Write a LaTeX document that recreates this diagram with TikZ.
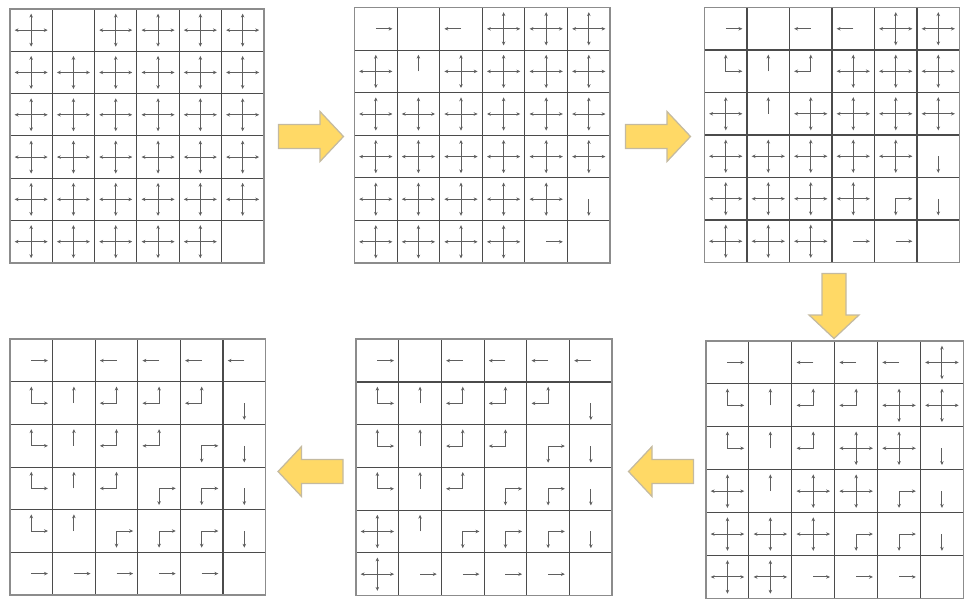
\documentclass[tikz,border=0pt]{standalone}
\usetikzlibrary{arrows.meta}
\definecolor{ArrowGold}{RGB}{255,217,102}
\definecolor{ArrowEdge}{RGB}{196,186,160}
\definecolor{GridGray}{RGB}{75,75,75}
\definecolor{FrameGray}{RGB}{140,140,140}
\definecolor{ArmGray}{RGB}{95,95,95}
\tikzset{
  armtip/.tip={Stealth[length=2.2pt,width=2pt]},
  gridline/.style={draw=GridGray, line width=0.6pt},
  gridframe/.style={draw=FrameGray, line width=1pt},
  arm/.style={draw=ArmGray, line width=0.55pt, -armtip},
  armboth/.style={draw=ArmGray, line width=0.55pt, armtip-armtip, line join=miter},
  bigarrow/.style={fill=ArrowGold, draw=ArrowEdge, line width=0.7pt, line join=miter},
  blockarrow/.pic={
    \path[bigarrow] (0,-12) -- (41.5,-12) -- (41.5,-25) -- (65,0)
      -- (41.5,25) -- (41.5,12) -- (0,12) -- cycle;
  },
}

% cell contents, drawn round the coordinate (m); \al = arm length in px
\newcommand{\cellN}{}
\newcommand{\cellR}{\draw[arm] (m) -- ++(\al,0);}
\newcommand{\cellL}{\draw[arm] (m) -- ++(-\al,0);}
\newcommand{\cellU}{\draw[arm] (m) -- ++(0,-\al);}
\newcommand{\cellD}{\draw[arm] (m) -- ++(0,\al);}
\newcommand{\cellX}{%
  \draw[armboth] (m) ++(-\al,0) -- ++(2*\al,0);
  \draw[armboth] (m) ++(0,-\al) -- ++(0,2*\al);}
\newcommand{\cellUR}{\draw[armboth] (m) ++(0,-\al) -- ++(0,\al) -- ++(\al,0);}
\newcommand{\cellUL}{\draw[armboth] (m) ++(0,-\al) -- ++(0,\al) -- ++(-\al,0);}
\newcommand{\cellRD}{\draw[armboth] (m) ++(\al,0) -- ++(-\al,0) -- ++(0,\al);}

% one 6x6 state: left, top, cell size, rows of cell codes
\newcommand{\stategrid}[4]{%
  \begin{scope}[shift={(#1,#2)}]
    \def\cs{#3}
    \pgfmathsetmacro{\al}{0.39*#3}
    \foreach \k in {1,...,5}{
      \draw[gridline] (\k*\cs,0) -- (\k*\cs,6*\cs);
      \draw[gridline] (0,\k*\cs) -- (6*\cs,\k*\cs);
    }
    \draw[gridframe] (0,0) rectangle (6*\cs,6*\cs);
    \foreach \rowcodes [count=\ri from 0] in {#4}{
      \foreach \code [count=\ci from 0] in \rowcodes {
        \coordinate (m) at ({(\ci+0.5)*\cs},{(\ri+0.5)*\cs});
        \csname cell\code\endcsname
      }
    }
  \end{scope}}

\begin{document}
\begin{tikzpicture}[x=0.02cm, y=-0.02cm]
  \useasboundingbox (0,0) rectangle (972,609);

  % --- (1) start ---
  \stategrid{10}{9}{42.3}{%
    {X,N,X,X,X,X},{X,X,X,X,X,X},{X,X,X,X,X,X},
    {X,X,X,X,X,X},{X,X,X,X,X,X},{X,X,X,X,X,N}}

  % --- (2) ---
  \stategrid{354.5}{7.5}{42.6}{%
    {R,N,L,X,X,X},{X,U,X,X,X,X},{X,X,X,X,X,X},
    {X,X,X,X,X,X},{X,X,X,X,X,D},{X,X,X,X,R,N}}

  % --- (3) ---
  \stategrid{704.5}{7.5}{42.5}{%
    {R,N,L,L,X,X},{UR,U,UL,X,X,X},{X,U,X,X,X,X},
    {X,X,X,X,X,D},{X,X,X,X,RD,D},{X,X,X,R,R,N}}

  % --- (4) ---
  \stategrid{706}{341}{42.9}{%
    {R,N,L,L,L,X},{UR,U,UL,UL,X,X},{UR,U,UL,X,X,D},
    {X,U,X,X,RD,D},{X,X,X,RD,RD,D},{X,X,R,R,R,N}}

  % --- (5) ---
  \stategrid{356}{339.3}{42.7}{%
    {R,N,L,L,L,L},{UR,U,UL,UL,UL,D},{UR,U,UL,UL,RD,D},
    {UR,U,UL,RD,RD,D},{X,U,RD,RD,RD,D},{X,R,R,R,R,N}}

  % --- (6) final ---
  \stategrid{10}{339.3}{42.6}{%
    {R,N,L,L,L,L},{UR,U,UL,UL,UL,D},{UR,U,UL,UL,RD,D},
    {UR,U,UL,RD,RD,D},{UR,U,RD,RD,RD,D},{R,R,R,R,R,N}}

  % block arrows between the states
  \pic at (278.5,136.5) {blockarrow};
  \pic at (625.5,136.5) {blockarrow};
  \pic[rotate=-90] at (834,273.5) {blockarrow};
  \pic[rotate=180] at (693.5,471.5) {blockarrow};
  \pic[rotate=180] at (343,471.5) {blockarrow};

\end{tikzpicture}
\end{document}
